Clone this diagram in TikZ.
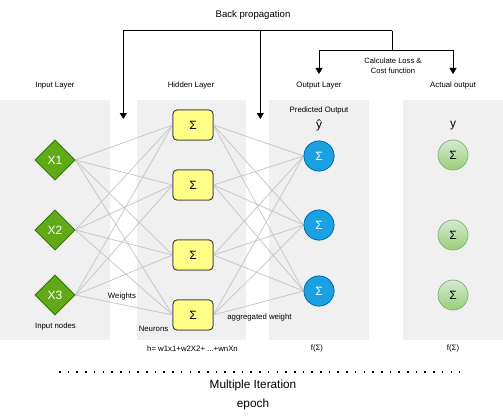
\documentclass[tikz,border=0pt]{standalone}
\usepackage{fontspec}
\setmainfont{Liberation Sans}
\usetikzlibrary{shapes.geometric,arrows.meta}
\definecolor{panel}{HTML}{F0F0F0}
\definecolor{wirec}{HTML}{C4C4C4}
\definecolor{ingreen}{HTML}{60A917}
\definecolor{ingreenB}{HTML}{2D7600}
\definecolor{hyellow}{HTML}{FFFF88}
\definecolor{hborder}{HTML}{36393D}
\definecolor{oblue}{HTML}{1BA1E2}
\definecolor{oblueB}{HTML}{006EAF}
\definecolor{agtop}{HTML}{D5E8D4}
\definecolor{agbot}{HTML}{97D077}
\definecolor{agB}{HTML}{82B366}
\tikzset{
  lbl/.style={font=\fontsize{7.8}{9}\selectfont, inner sep=0pt},
  panelbox/.style={fill=panel, draw=none},
  innode/.style={diamond, aspect=1, minimum width=40pt, minimum height=40pt, inner sep=0pt, fill=ingreen, draw=ingreenB, line width=0.7pt, text=white, font=\fontsize{12}{14}\selectfont},
  hidnode/.style={rectangle, rounded corners=4pt, minimum width=40pt, minimum height=30pt, inner sep=0pt, fill=hyellow, draw=hborder, line width=0.8pt, font=\fontsize{12}{14}\selectfont},
  outnode/.style={circle, minimum size=30pt, inner sep=0pt, fill=oblue, draw=oblueB, line width=0.7pt, text=white, font=\fontsize{12}{14}\selectfont},
  actnode/.style={circle, minimum size=30pt, inner sep=0pt, top color=agtop, bottom color=agbot, draw=agB, line width=0.7pt, font=\fontsize{12}{14}\selectfont},
  wire/.style={draw=wirec, line width=0.7pt},
  arr/.style={-{Triangle[width=7pt,length=6pt]}, line width=0.9pt, black},
  plainline/.style={line width=0.9pt, black}
}
\begin{document}
\begin{tikzpicture}[x=1pt,y=-1pt]
\useasboundingbox (0,0) rectangle (503,420);
% panels
\fill[panelbox] (0,100) rectangle (110,340);
\fill[panelbox] (137,100) rectangle (246,340);
\fill[panelbox] (269,100) rectangle (369,340);
\fill[panelbox] (403,100) rectangle (503,340);
% layer titles
\node[lbl] (tin) at (55,85.5) {Input Layer};
\node[lbl] (thid) at (191,85.5) {Hidden Layer};
\node[lbl] (tout) at (319,85.5) {Output Layer};
\node[lbl] (tact) at (453,85.5) {Actual output};
\node[lbl] (pred) at (319,110.5) {Predicted Output};
\node[inner sep=0pt, font=\fontsize{12}{14}\selectfont] (yhat) at (319,125.5) {ŷ};
\node[inner sep=0pt, font=\fontsize{12}{14}\selectfont] (yact) at (453,125.5) {y};
% input nodes
\node[innode] (x1) at (55,160) {X1};
\node[innode] (x2) at (55,230) {X2};
\node[innode] (x3) at (55,295) {X3};
% hidden nodes
\node[hidnode] (h1) at (193,125) {Σ};
\node[hidnode] (h2) at (193,185) {Σ};
\node[hidnode] (h3) at (193,255) {Σ};
\node[hidnode] (h4) at (193,315) {Σ};
% output nodes
\node[outnode] (o1) at (319,156) {Σ};
\node[outnode] (o2) at (319,225) {Σ};
\node[outnode] (o3) at (319,291) {Σ};
% actual nodes
\node[actnode] (a1) at (453,155) {Σ};
\node[actnode] (a2) at (453,235) {Σ};
\node[actnode] (a3) at (453,295) {Σ};
% wires
\foreach \i in {1,2,3} {
  \foreach \j in {1,2,3,4} {
    \draw[wire] (x\i.east) -- (h\j.west);
  }
}
\foreach \j in {1,2,3,4} {
  \foreach \k in {1,2,3} {
    \draw[wire] (h\j.east) -- (o\k.west);
  }
}
% redraw nodes on top of wires
\node[innode] at (x1) {X1};
\node[innode] at (x2) {X2};
\node[innode] at (x3) {X3};
\node[hidnode] at (h1) {Σ};
\node[hidnode] at (h2) {Σ};
\node[hidnode] at (h3) {Σ};
\node[hidnode] at (h4) {Σ};
\node[outnode] at (o1) {Σ};
\node[outnode] at (o2) {Σ};
\node[outnode] at (o3) {Σ};
% small labels
\node[lbl] (wts) at (122,296) {Weights};
\node[lbl] (innodes) at (55.5,326) {Input nodes};
\node[lbl] (neur) at (153.5,329) {Neurons};
\node[lbl] (aggw) at (259.5,317) {aggregated weight};
\node[lbl] (hform) at (192.5,348.5) {h= w1x1+w2X2+ ...+wnXn};
\node[lbl] (fo) at (317,348.5) {f(Σ)};
\node[lbl] (fa) at (453,348.5) {f(Σ)};
% back propagation
\node[inner sep=0pt, font=\fontsize{9.6}{11}\selectfont] (bp) at (253,15.5) {Back propagation};
\coordinate (bpL) at (123.3,30.7);
\coordinate (bpM) at (260.3,30.7);
\coordinate (bpR) at (392,30.7);
\coordinate (tipL) at (123.3,119);
\coordinate (tipM) at (260.3,119);
\coordinate (lossJ) at (392,50.7);
\coordinate (tipO) at (319,74);
\coordinate (tipA) at (453,74);
\draw[arr] (bpR) -- (bpL) -- (tipL);
\draw[arr] (bpM) -- (tipM);
\draw[plainline] (bpR) -- (lossJ);
\draw[arr] (lossJ) -| (tipO);
\draw[arr] (lossJ) -| (tipA);
\node[lbl, align=center, font=\fontsize{7.6}{9.6}\selectfont] (loss) at (393,65.5) {Calculate Loss \&\\Cost function};
% dotted iteration line
\coordinate (dotS) at (59,371.7);
\coordinate (dotE) at (460,371.7);
\draw[line width=2pt, dash pattern=on 1.6pt off 7.1pt] (dotS) -- (dotE);
\node[inner sep=0pt, font=\fontsize{11.8}{14}\selectfont] (mi) at (253,385) {Multiple Iteration};
\node[inner sep=0pt, font=\fontsize{11.8}{14}\selectfont] (ep) at (253,404.5) {epoch};
\end{tikzpicture}
\end{document}
